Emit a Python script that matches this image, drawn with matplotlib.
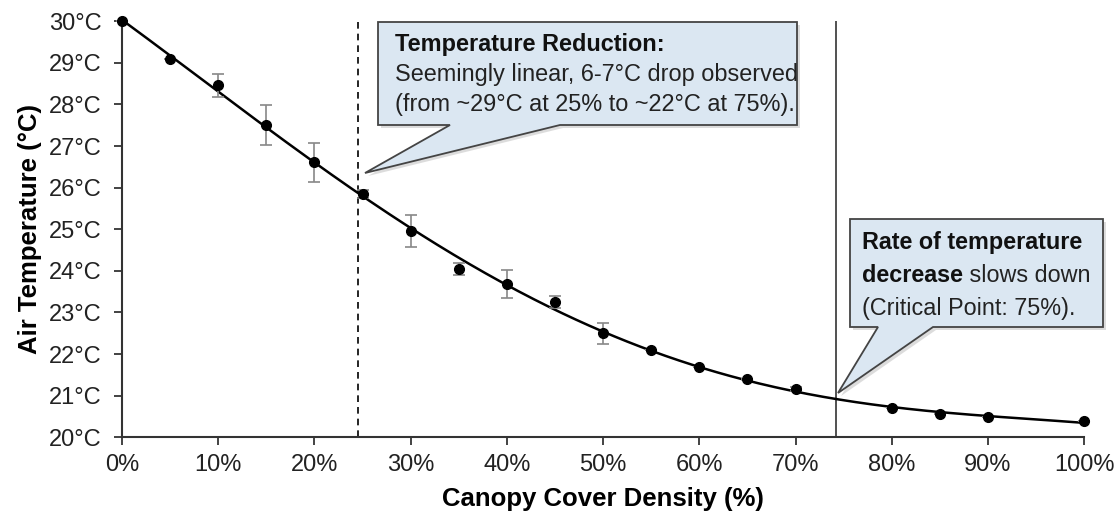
import numpy as np
import matplotlib
matplotlib.use("Agg")
import matplotlib.pyplot as plt
from matplotlib.patches import Polygon
from matplotlib.text import Annotation
from matplotlib.transforms import Affine2D

plt.rcParams['font.family'] = ['Liberation Sans', 'DejaVu Sans']

# canopy cover density (%) and measured air temperature (°C)
density = [0, 5, 10, 15, 20, 25, 30, 35, 40, 45, 50, 55, 60, 65, 70, 80, 85, 90, 100]
temp = [30.0, 29.09, 28.46, 27.5, 26.61, 25.84, 24.95, 24.04, 23.68, 23.25,
        22.5, 22.1, 21.68, 21.4, 21.15, 20.7, 20.55, 20.48, 20.38]
temp_err = [0, 0, 0.28, 0.48, 0.47, 0.1, 0.38, 0.15, 0.33, 0.15,
            0.25, 0, 0, 0, 0.05, 0, 0, 0, 0]
x_ticks = list(range(0, 101, 10))
y_ticks = list(range(20, 31))
linear_end = 24.5
critical = 74.2

fig = plt.figure(figsize=(11.2, 5.18), dpi=100)
ax = fig.add_axes([0.109, 0.156, 0.859, 0.803])

# trend line through the data
coef = np.polyfit(density, temp, 4)
xs = np.linspace(0, 100, 300)
ax.plot(xs, np.polyval(coef, xs), color='black', lw=1.8, zorder=3)

ax.errorbar(density, temp, yerr=temp_err, fmt='o', color='black', ms=7,
            ecolor='#888888', elinewidth=1.2, capsize=4, capthick=1.2, zorder=4,
            clip_on=False)

ax.axvline(linear_end, color='black', lw=1.2, ls=(0, (4, 3)), zorder=2)
ax.axvline(critical, color='#333333', lw=1.2, zorder=2)

ax.set_xlim(0, 100)
ax.set_ylim(20, 30)
ax.set_xticks(x_ticks)
ax.set_xticklabels([f'{t}%' for t in x_ticks])
ax.set_yticks(y_ticks)
ax.set_yticklabels([f'{t}°C' for t in y_ticks])
ax.tick_params(direction='out', length=6, width=1.2, labelsize=17, colors='#222222')
ax.tick_params(axis='y', pad=9)
ax.tick_params(axis='x', pad=6)
for s in ['top', 'right']:
    ax.spines[s].set_visible(False)
for s in ['left', 'bottom']:
    ax.spines[s].set_linewidth(1.5)
    ax.spines[s].set_color('#333333')

ax.set_xlabel('Canopy Cover Density (%)', fontsize=18.5, fontweight='bold', labelpad=8)
ax.set_ylabel('Air Temperature (°C)', fontsize=18.5, fontweight='bold', labelpad=5)

# callouts drawn in pixel space of the figure (origin top-left)
px = Affine2D().scale(1 / 1120, -1 / 518).translate(0, 1) + fig.transFigure


def callout(box, base, tip):
    l, t, r, b = box
    pts = [(l, t), (r, t), (r, b), (base[1], b), tip, (base[0], b), (l, b)]
    shadow = Polygon([(x + 3, y + 3) for x, y in pts], closed=True, transform=px,
                     facecolor='#bbbbbb', edgecolor='none', alpha=0.5, zorder=5)
    fig.add_artist(shadow)
    fig.add_artist(Polygon(pts, closed=True, transform=px, facecolor='#dbe7f2',
                           edgecolor='#444444', lw=1.3, zorder=6))


callout((378, 22, 797, 125), (450, 560), (365, 173))
callout((850, 219, 1103, 327), (878, 933), (838, 393))

fs1 = 16.9
fig.text(395 / 1120, 1 - 45 / 518, 'Temperature Reduction:', fontsize=fs1, fontweight='bold',
         color='#111111', va='center', zorder=7)
fig.text(395 / 1120, 1 - 75 / 518, 'Seemingly linear, 6-7°C drop observed', fontsize=fs1,
         color='#222222', va='center', zorder=7)
fig.text(395 / 1120, 1 - 104 / 518, '(from ~29°C at 25% to ~22°C at 75%).', fontsize=fs1,
         color='#222222', va='center', zorder=7)

fs2 = 16.8
fig.text(862 / 1120, 1 - 242 / 518, 'Rate of temperature', fontsize=fs2, fontweight='bold',
         color='#111111', va='center', zorder=7)
t1 = fig.text(862 / 1120, 1 - 275 / 518, 'decrease', fontsize=fs2, fontweight='bold',
              color='#111111', va='center', zorder=7)
fig.add_artist(Annotation(' slows down', xy=(1, 0.5), xycoords=t1, va='center', ha='left',
                          fontsize=fs2, color='#222222', zorder=8))
fig.text(862 / 1120, 1 - 308 / 518, '(Critical Point: 75%).', fontsize=fs2,
         color='#222222', va='center', zorder=7)

fig.savefig('out.png', dpi=100)
